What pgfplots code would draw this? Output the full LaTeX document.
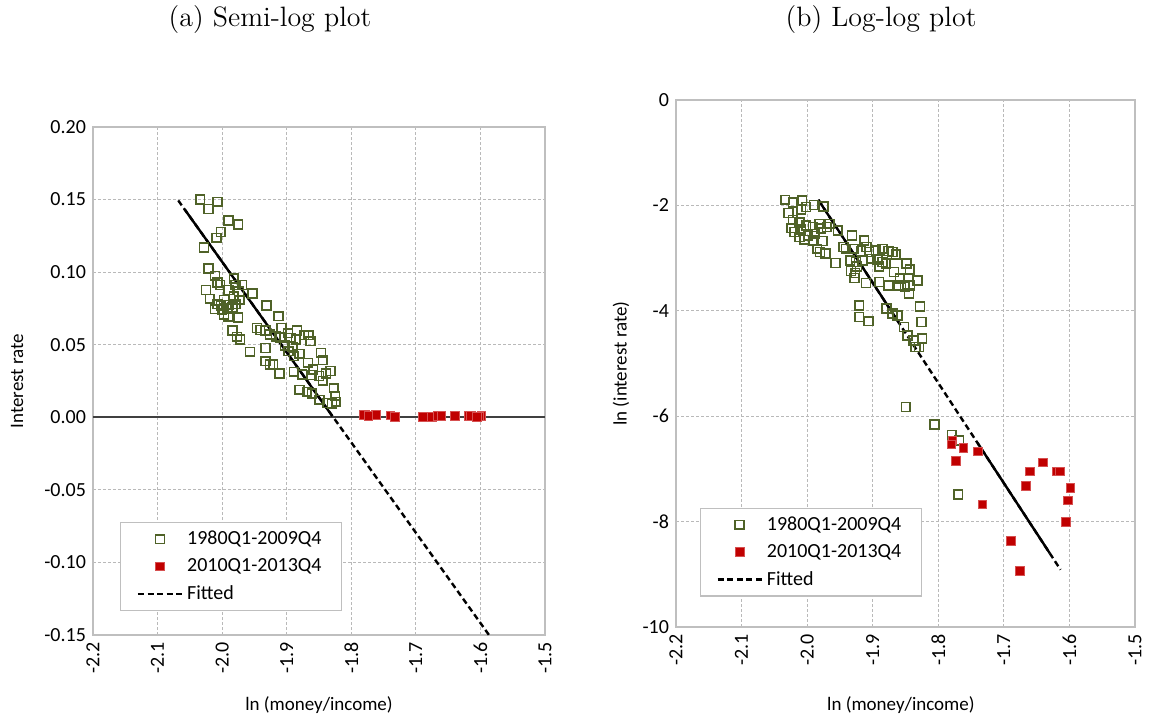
\documentclass[border=0pt]{standalone}
\usepackage{fontspec}
\newfontfamily\carlito{Carlito}
\usepackage{pgfplots}
\pgfplotsset{compat=1.18}
\definecolor{olivegreen}{RGB}{79,98,40}
\definecolor{darkred}{RGB}{192,0,0}
\definecolor{rededge}{RGB}{214,80,80}
\definecolor{gridgray}{RGB}{185,185,185}
\definecolor{framegray}{RGB}{191,191,191}

\pgfplotsset{excel/.style={
  scale only axis,
  anchor=south west,
  xmin=-2.2, xmax=-1.5,
  xtick={-2.2,-2.1,-2.0,-1.9,-1.8,-1.7,-1.6,-1.5},
  grid=major,
  major grid style={gridgray, dash pattern=on 1.5pt off 1pt, line width=0.4pt},
  axis line style={framegray, line width=0.8pt},
  major tick length=0pt,
  tick label style={font=\carlito\fontsize{10}{12}\selectfont},
  /pgf/number format/assume math mode=true,
  xticklabel style={rotate=90, anchor=east,
    /pgf/number format/fixed, /pgf/number format/fixed zerofill,
    /pgf/number format/precision=1},
  label style={font=\carlito\fontsize{9.5}{11}\selectfont},
  legend style={draw=framegray, line width=0.6pt,
    font=\carlito\fontsize{10}{12}\selectfont,
    anchor=north west, inner xsep=8pt, inner ysep=2pt, row sep=1.5pt},
  legend cell align=left,
  legend image code/.code={\draw[mark repeat=2,mark phase=2,#1]
    plot coordinates {(0pt,0pt) (11pt,0pt) (22pt,0pt)};},
  green/.style={only marks, mark=square, mark size=2.2pt,
    mark options={draw=olivegreen, fill=white, line width=0.8pt}},
  red/.style={only marks, mark=square*, mark size=2.2pt,
    mark options={draw=rededge, fill=darkred, line width=0.5pt}},
  fitted/.style={black, line width=1.2pt, dash pattern=on 3pt off 1.8pt},
}}

\begin{document}
\begin{tikzpicture}
\path[use as bounding box] (0,0) rectangle (575.5pt,-358.5pt);
\node[font=\fontsize{14}{17}\selectfont] at (135pt,-10pt) {(a) Semi-log plot};
\node[font=\fontsize{14}{17}\selectfont] at (440.5pt,-10pt) {(b) Log-log plot};

% (a) semi-log
\begin{axis}[excel,
  at={(46.5pt,-317.5pt)}, width=226pt, height=254pt,
  ymin=-0.15, ymax=0.2,
  ytick={-0.15,-0.10,-0.05,0,0.05,0.10,0.15,0.20},
  yticklabel style={/pgf/number format/fixed, /pgf/number format/fixed zerofill,
    /pgf/number format/precision=2},
  xlabel={ln (money/income)},
  xlabel style={at={(axis description cs:0.5,-0.138)}, anchor=center},
  ylabel={Interest rate},
  ylabel style={at={(axis description cs:-0.168,0.5)}, anchor=center},
  legend style={at={(axis description cs:0.06,0.222)}},
]
\addplot[black!75, line width=0.9pt, forget plot] coordinates {(-2.2,0) (-1.5,0)};
\addplot[green] coordinates {
(-2.034,0.150) (-2.021,0.1435) (-2.007,0.1485) (-1.990,0.1355) (-1.975,0.1328)
(-2.002,0.1276) (-2.009,0.1237) (-2.028,0.1171) (-2.021,0.1025) (-2.011,0.0975)
(-2.007,0.0930) (-2.003,0.0911) (-1.982,0.0957) (-1.979,0.0911) (-1.969,0.0911)
(-1.953,0.0852) (-2.025,0.0877) (-2.019,0.0816) (-1.990,0.0877) (-1.982,0.0831)
(-1.973,0.0809) (-1.979,0.0779) (-1.990,0.0775) (-2.002,0.0770) (-2.011,0.0745)
(-2.000,0.0740) (-1.992,0.0747) (-1.984,0.0756) (-1.997,0.0706) (-1.991,0.0695)
(-1.975,0.0688) (-1.931,0.0770) (-1.913,0.0697) (-1.984,0.0599) (-1.977,0.0554)
(-1.972,0.0535) (-1.957,0.0451) (-1.946,0.0615) (-1.941,0.0601) (-1.933,0.0599)
(-1.926,0.0570) (-1.917,0.0556) (-1.908,0.0615) (-1.910,0.0551) (-1.898,0.0579)
(-1.884,0.0599) (-1.894,0.0547) (-1.886,0.0535) (-1.873,0.0565) (-1.866,0.0565)
(-1.863,0.0524) (-1.903,0.0494) (-1.891,0.0485) (-1.933,0.0478) (-1.897,0.0456)
(-1.889,0.0421) (-1.880,0.0437) (-1.933,0.0387) (-1.926,0.0364) (-1.921,0.0364)
(-1.911,0.0303) (-1.889,0.0314) (-1.876,0.0296) (-1.867,0.0376) (-1.859,0.0330)
(-1.861,0.0292) (-1.850,0.0285) (-1.847,0.0444) (-1.844,0.0394) (-1.839,0.0301)
(-1.832,0.0319) (-1.844,0.0251) (-1.880,0.0189) (-1.869,0.0175) (-1.861,0.0164)
(-1.849,0.0121) (-1.837,0.0098) (-1.827,0.0200) (-1.825,0.0148) (-1.824,0.0107)
(-1.830,0.0096) (-1.997,0.0809) (-1.974,0.0866) (-2.007,0.0779)
};
\addlegendentry{1980Q1-2009Q4\hspace{8pt}}
\addplot[red] coordinates {
(-1.7783,0.00156) (-1.7798,0.00145) (-1.7616,0.00136) (-1.7393,0.00127)
(-1.7733,0.00105) (-1.7327,0.00046) (-1.6886,0.00023) (-1.6749,0.00013)
(-1.6663,0.00066) (-1.6602,0.00087) (-1.6399,0.00103) (-1.6186,0.00087)
(-1.6146,0.00087) (-1.5983,0.00063) (-1.6019,0.00050) (-1.6049,0.00033)
};
\addlegendentry{2010Q1-2013Q4}
\addplot[fitted] coordinates {(-2.068,0.1494) (-1.5867,-0.15)};
\addlegendentry{Fitted}
\addplot[black, line width=1.2pt, forget plot] coordinates {(-2.058,0.1432) (-1.830,0.0012)};
\end{axis}

% (b) log-log
\begin{axis}[excel,
  at={(338pt,-313.5pt)}, width=229.5pt, height=263.5pt,
  ymin=-10, ymax=0,
  ytick={-10,-8,-6,-4,-2,0},
  xlabel={ln (money/income)},
  xlabel style={at={(axis description cs:0.49,-0.148)}, anchor=center},
  ylabel={ln (interest rate)},
  ylabel style={at={(axis description cs:-0.120,0.5)}, anchor=center},
  legend style={at={(axis description cs:0.052,0.226)}},
]
\addplot[green] coordinates {
(-2.0334,-1.893) (-2.0218,-1.943) (-2.0076,-1.905) (-2.0091,-2.082) (-2.0015,-2.032)
(-1.9899,-1.994) (-1.9752,-2.019) (-2.0283,-2.145) (-2.0218,-2.272) (-2.0116,-2.322)
(-2.0243,-2.430) (-2.0192,-2.506) (-2.0091,-2.461) (-2.0015,-2.379) (-1.9914,-2.411)
(-1.9813,-2.348) (-1.9787,-2.442) (-1.9701,-2.411) (-1.9889,-2.537) (-1.9990,-2.569)
(-2.0116,-2.600) (-2.0040,-2.651) (-1.9914,-2.664) (-1.9762,-2.676) (-1.9848,-2.822)
(-1.9803,-2.885) (-1.9722,-2.916) (-1.9570,-3.093) (-1.9534,-2.474) (-1.9317,-2.569)
(-1.9443,-2.790) (-1.9408,-2.822) (-1.9292,-2.822) (-1.9130,-2.664) (-1.9180,-2.866)
(-1.9094,-2.790) (-1.9054,-2.885) (-1.8953,-2.853) (-1.8851,-2.822) (-1.8760,-2.866)
(-1.8649,-2.929) (-1.8700,-2.885) (-1.9342,-3.043) (-1.9256,-3.074) (-1.9155,-3.043)
(-1.9029,-3.012) (-1.8927,-3.024) (-1.8851,-3.074) (-1.8902,-3.157) (-1.8801,-3.106)
(-1.9241,-3.157) (-1.9332,-3.245) (-1.9266,-3.283) (-1.9276,-3.378) (-1.9104,-3.473)
(-1.8902,-3.454) (-1.8760,-3.517) (-1.8674,-3.264) (-1.8588,-3.390) (-1.8609,-3.517)
(-1.8482,-3.106) (-1.8436,-3.220) (-1.8512,-3.548) (-1.8431,-3.517) (-1.8320,-3.422)
(-1.8446,-3.675) (-1.8791,-3.959) (-1.8700,-4.054) (-1.8624,-4.086) (-1.9206,-3.896)
(-1.9206,-4.117) (-1.9064,-4.199) (-1.8523,-4.307) (-1.8472,-4.465) (-1.8381,-4.560)
(-1.8345,-4.686) (-1.8244,-4.528) (-1.8254,-4.212) (-1.8280,-3.915) (-1.8295,-4.686)
(-1.8497,-5.824) (-1.8057,-6.159) (-1.9660,-2.348) (-1.7793,-6.354) (-1.7682,-6.462)
(-1.7697,-7.487)
};
\addlegendentry{1980Q1-2009Q4\hspace{8pt}}
\addplot[red] coordinates {
(-1.7783,-6.462) (-1.7798,-6.538) (-1.7616,-6.601) (-1.7393,-6.671)
(-1.7733,-6.855) (-1.7327,-7.677) (-1.6886,-8.374) (-1.6749,-8.931)
(-1.6663,-7.317) (-1.6602,-7.051) (-1.6399,-6.880) (-1.6186,-7.051)
(-1.6146,-7.051) (-1.5983,-7.367) (-1.6019,-7.601) (-1.6049,-8.007)
};
\addlegendentry{2010Q1-2013Q4}
\addplot[fitted] coordinates {(-1.983,-1.893) (-1.6136,-8.912)};
\addlegendentry{Fitted}
\addplot[black, line width=1.2pt, forget plot] coordinates {(-1.983,-1.893) (-1.860,-4.227)};
\addplot[black, line width=1.2pt, forget plot] coordinates {(-1.740,-6.509) (-1.630,-8.600)};
\end{axis}
\end{tikzpicture}
\end{document}
